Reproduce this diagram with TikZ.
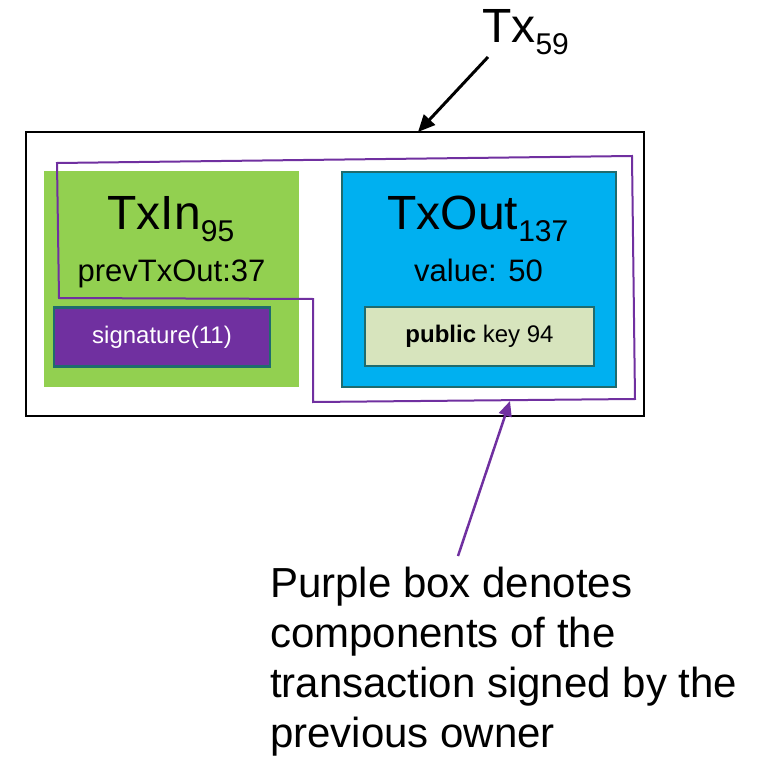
\documentclass[tikz,border=0pt]{standalone}
\usepackage{fontspec}
\setmainfont{Liberation Sans}
\usepackage{tikz}
\usetikzlibrary{arrows.meta,calc}
\definecolor{ingreen}{HTML}{92D050}
\definecolor{outblue}{HTML}{00B0F0}
\definecolor{signpurple}{HTML}{7030A0}
\definecolor{keygreen}{HTML}{D7E4BD}
\definecolor{rimteal}{HTML}{1F6B6E}
\tikzstyle{txframe}=[draw=black,line width=2.5pt,inner sep=0pt]
\tikzstyle{part}=[inner sep=0pt]
\tikzstyle{field}=[draw=rimteal,line width=2.5pt,inner sep=0pt]
\tikzstyle{biglabel}=[font=\fontsize{48}{58}\selectfont,inner sep=0pt,anchor=base]
\tikzstyle{smalllabel}=[font=\fontsize{31}{37}\selectfont,inner sep=0pt,anchor=base]
\tikzstyle{pointer} = [draw,line width=3pt,-{Triangle[length=17pt,width=15pt]}]
\tikzstyle{signline} = [draw=signpurple,line width=2pt]
\newcommand{\lowidx}[1]{\raisebox{-12pt}{\fontsize{30}{30}\selectfont #1}}

\begin{document}
\begin{tikzpicture}[x=1pt,y=-1pt]
    \useasboundingbox (0,0) rectangle (764,760);
    % the transaction and its two parts
    \node[txframe,minimum width=618,minimum height=284] (tx) at (335,274) {};
    \node[part,fill=ingreen,minimum width=255,minimum height=216] (txin) at (171.5,279) {};
    \node[field,fill=outblue,minimum width=274,minimum height=215] (txout) at (479,279.5) {};

    % labels inside the parts
    \node[biglabel] (inname) at (171,229) {TxIn\lowidx{95}};
    \node[smalllabel] (inprev) at (171.5,281) {prevTxOut:37};
    \node[biglabel] (outname) at (478,229) {TxOut\lowidx{137}};
    \node[smalllabel] (outvalue) at (478.5,281) {value: 50};

    \foreach \pos/\name/\boxw/\shade/\ink/\txt in
        {{(162,337)/sig/216/signpurple/white/signature(11)},
         {(479.5,336.5)/key/229/keygreen/black/{\textbf{public} key 94}}}
        \node[field,fill=\shade,text=\ink,font=\fontsize{24}{29}\selectfont,
              minimum width=\boxw,minimum height=59] (\name) at \pos {\txt};

    % what the previous owner signed
    \draw[signline] (57,163) -- (632,156) -- (635,399) -- (313,402)
        -- (313,299) -- (59,298) -- cycle;

    % title and note
    \node[biglabel,anchor=base west] (title) at (482,43) {Tx\lowidx{59}};
    \node[font=\fontsize{42}{50}\selectfont,align=left,anchor=north west,inner sep=0pt]
        (note) at (270,567) {Purple box denotes\\components of the\\transaction signed by the\\previous owner};

    \coordinate (titletail) at (488,57);
    \coordinate (txtip) at (418,132);
    \coordinate (notetail) at (458,556);
    \coordinate (signtip) at (510,401);
    \path[pointer] (titletail) -- (txtip);
    \path[pointer,signpurple,line width=2.5pt,-{Triangle[length=15pt,width=13pt]}] (notetail) -- (signtip);
\end{tikzpicture}
\end{document}
